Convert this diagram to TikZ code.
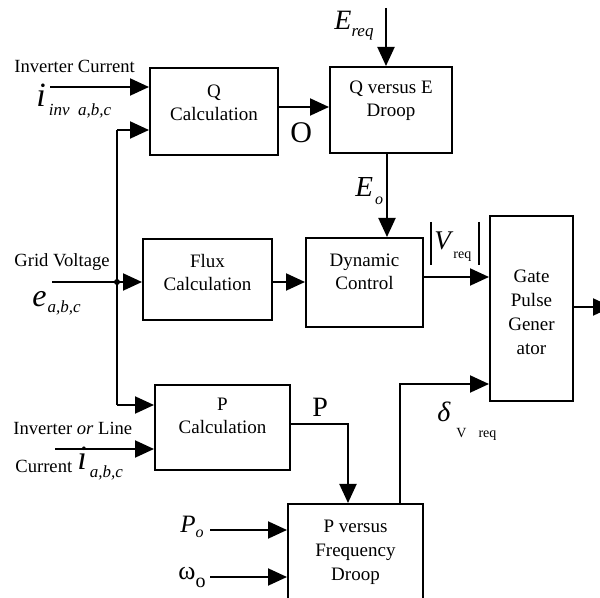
\documentclass[tikz,border=0pt]{standalone}
\usepackage{fontspec}
\setmainfont{Liberation Serif}
\usetikzlibrary{arrows.meta}
\begin{document}
\begin{tikzpicture}[x=0.5pt,y=-0.5pt,
  blk/.style={draw,line width=1pt,inner sep=0pt},
  lbl/.style={font=\fontsize{9.5}{11.5}\selectfont,align=center,inner sep=0pt},
  wire/.style={line width=1pt},
  arr/.style={wire,-{Triangle[length=9.5pt,width=8.5pt]}},
  side/.style={font=\fontsize{9.3}{11}\selectfont,inner sep=0pt,anchor=base west},
  sym/.style={inner sep=0pt,anchor=base west}]
\useasboundingbox (0,0) rectangle (600,598);

% blocks
\node[blk,minimum width=64pt,minimum height=43.5pt] (qcalc) at (214,111.5) {};
\node[lbl] (qcalcT) at (214,103) {Q\\Calculation};
\node[blk,minimum width=61pt,minimum height=43pt] (qe) at (391,110) {};
\node[lbl] (qeT) at (391,101) {Q versus E\\Droop};
\node[blk,minimum width=64.5pt,minimum height=40.5pt] (flux) at (207.5,279.5) {};
\node[lbl] (fluxT) at (207.5,273) {Flux\\Calculation};
\node[blk,minimum width=58.5pt,minimum height=44.5pt] (dyn) at (364.5,282.5) {};
\node[lbl] (dynT) at (364.5,272) {Dynamic\\Control};
\node[blk,minimum width=41.5pt,minimum height=92.5pt] (gate) at (531.5,308.5) {};
\node[lbl,font=\fontsize{9.5}{12}\selectfont] (gateT) at (531.5,312) {Gate\\Pulse\\Gener\\ator};
\node[blk,minimum width=67.5pt,minimum height=42.5pt] (pcalc) at (222.5,427.5) {};
\node[lbl] (pcalcT) at (222.5,416) {P\\Calculation};
\node[blk,minimum width=67.5pt,minimum height=53pt] (pf) at (355.5,557) {};
\node[lbl,font=\fontsize{9.5}{12}\selectfont] (pfT) at (355.5,552) {P versus\\Frequency\\Droop};

% helper coordinates
\coordinate (in1) at (50,87);
\coordinate (busQ) at (117,130);
\coordinate (busP) at (117,405);
\coordinate (gin) at (52,282);
\coordinate (junc) at (117,282);
\coordinate (qy) at (0,107);
\coordinate (ereq) at (386,8);
\coordinate (ex) at (387,0);
\coordinate (vy) at (0,277);
\coordinate (out) at (612,307);
\coordinate (py) at (0,424);
\coordinate (pturn) at (348,424);
\coordinate (dx) at (400,0);
\coordinate (dturn) at (400,384);
\coordinate (po) at (210,530);
\coordinate (wo) at (210,577);
\coordinate (in3) at (55,449);

% connectors
\draw[arr] (in1) -- (in1 -| qcalc.west);
\draw[wire] (busP) -- (busQ);
\draw[arr] (busQ) -- (busQ -| qcalc.west);
\draw[arr] (busP) -- (busP -| pcalc.west);
\draw[arr] (gin) -- (gin -| flux.west);
\fill (junc) circle[radius=3];
\draw[arr] (flux.east |- gin) -- (dyn.west |- gin);
\draw[arr] (qy -| qcalc.east) -- (qy -| qe.west);
\draw[arr] (ereq) -- (ereq |- qe.north);
\draw[arr] (ex |- qe.south) -- (ex |- dyn.north);
\draw[arr] (vy -| dyn.east) -- (vy -| gate.west);
\draw[arr] (out -| gate.east) -- (out);
\draw[arr] (py -| pcalc.east) -- (pturn) -- (pturn |- pf.north);
\draw[arr] (dx |- pf.north) -- (dturn) -- (dturn -| gate.west);
\draw[arr] (po) -- (po -| pf.west);
\draw[arr] (wo) -- (wo -| pf.west);
\draw[arr] (in3) -- (in3 -| pcalc.west);

% side labels
\node[side] (tinv) at (14,73) {Inverter Current};
\node[sym] (tiinv) at (36,107) {\fontsize{17}{17}\selectfont\itshape i\kern1.5pt\raisebox{-4.5pt}{\fontsize{8.5}{9}\selectfont inv\ \ a,b,c}};
\node[side] (tgrid) at (14,267) {Grid Voltage};
\node[sym] (te) at (32,307) {\fontsize{16}{16}\selectfont\itshape e\kern0.5pt\raisebox{-3pt}{\fontsize{8.5}{9}\selectfont a,b,c}};
\node[side] (tline) at (13,435) {Inverter \textit{or} Line};
\node[side] (tcur) at (15,473) {Current};
\node[sym] (ti) at (77,470) {\fontsize{17}{17}\selectfont\itshape i\kern1.5pt\raisebox{-4pt}{\fontsize{8.5}{9}\selectfont a,b,c}};

% signal labels
\node[sym,font=\fontsize{15}{15}\selectfont] (qlab) at (290,143) {O};
\node[sym] (tereq) at (334,30) {\fontsize{14}{14}\selectfont\itshape E\raisebox{-3.5pt}{\fontsize{8.5}{9}\selectfont req}};
\node[sym] (teo) at (355,197) {\fontsize{14.5}{14.5}\selectfont\itshape E\kern1pt\raisebox{-4pt}{\fontsize{8}{9}\selectfont o}};
\draw[line width=0.8pt] (431,222) -- (431,265);
\draw[line width=0.8pt] (479,222) -- (479,265);
\node[sym] (tv) at (434,250) {\fontsize{13.5}{13.5}\selectfont\itshape V};
\node[sym] (tvr) at (453,259) {\fontsize{7}{8}\selectfont req};
\node[sym,font=\fontsize{14}{14}\selectfont] (plab) at (312,417) {P};
\node[sym] (tdel) at (437,422) {\fontsize{14}{14}\selectfont\itshape δ};
\node[sym] (tdv) at (456,438) {\fontsize{7}{8}\selectfont V\hspace{6pt}req};
\node[sym] (tpo) at (180,533) {\fontsize{12.5}{12.5}\selectfont\itshape P\raisebox{-2pt}{\fontsize{8}{9}\selectfont o}};
\node[sym] (two) at (178,580) {\fontsize{13}{13}\selectfont ω\raisebox{-4pt}{\fontsize{10}{10}\selectfont o}};
\end{tikzpicture}
\end{document}
